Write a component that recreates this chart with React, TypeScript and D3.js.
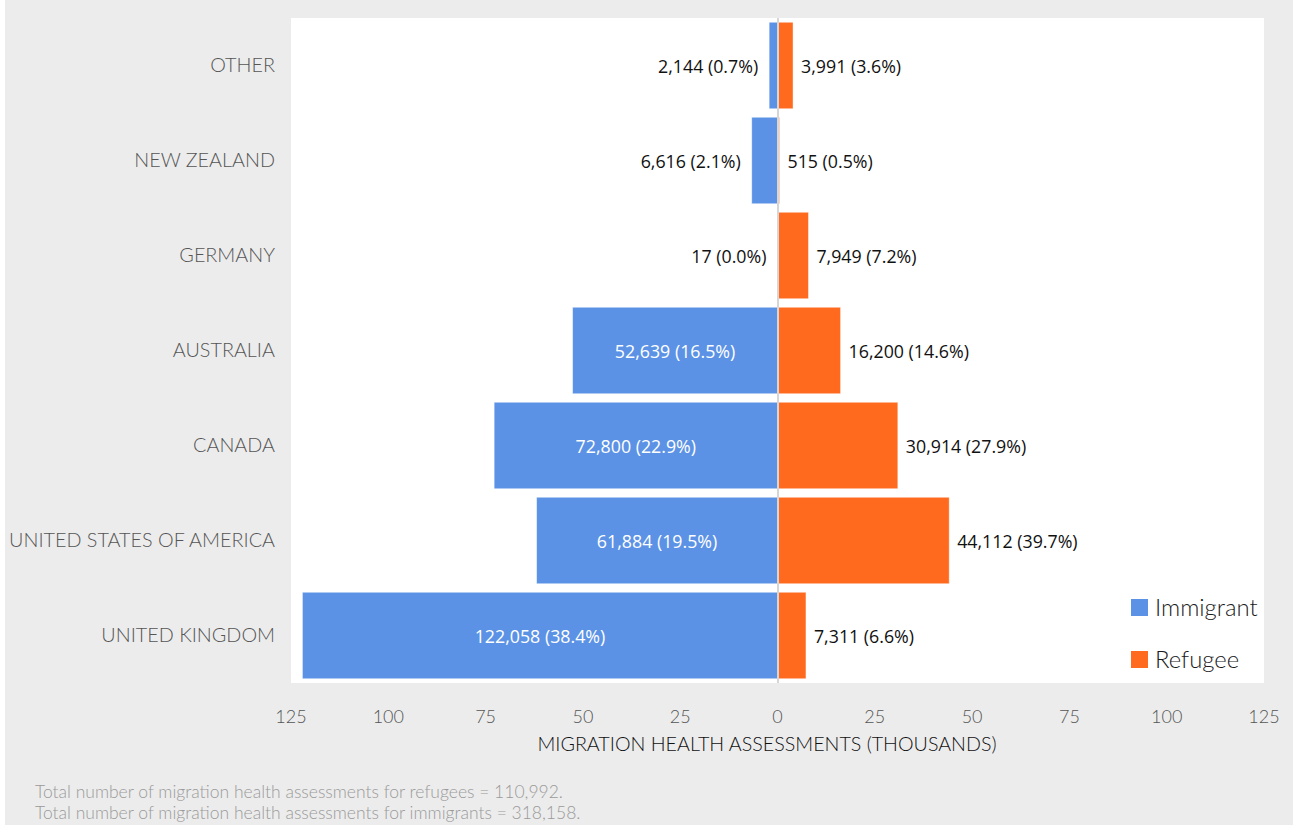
import React from "react";
import * as d3 from "d3";

// Destination countries, top to bottom
const categories = [
  "OTHER",
  "NEW ZEALAND",
  "GERMANY",
  "AUSTRALIA",
  "CANADA",
  "UNITED STATES OF AMERICA",
  "UNITED KINGDOM",
];

// Number of migration health assessments per destination
const immigrantCounts = [2144, 6616, 17, 52639, 72800, 61884, 122058];
const immigrantShares = [0.7, 2.1, 0.0, 16.5, 22.9, 19.5, 38.4];
const refugeeCounts = [3991, 515, 7949, 16200, 30914, 44112, 7311];
const refugeeShares = [3.6, 0.5, 7.2, 14.6, 27.9, 39.7, 6.6];

// Axis ticks in thousands (negative side = immigrants)
const tickValues = [-125, -100, -75, -50, -25, 0, 25, 50, 75, 100, 125];

const seriesNames = ["Immigrant", "Refugee"];
const seriesColors = ["#5b92e5", "#ff6a1f"];

const axisTitle = "MIGRATION HEALTH ASSESSMENTS (THOUSANDS)";
const footnotes = [
  "Total number of migration health assessments for refugees = 110,992.",
  "Total number of migration health assessments for immigrants = 318,158.",
];

const W = 1293;
const H = 825;
const plot = { left: 291, right: 1264, top: 18, bottom: 683 };

const labelFont = "Lato, 'DejaVu Sans', sans-serif";
const valueFont = "'Open Sans', 'Noto Sans', sans-serif";

const fmt = d3.format(",");

export default function App() {
  const x = d3.scaleLinear().domain([-125, 125]).range([plot.left, plot.right]);
  const y = d3
    .scaleBand<string>()
    .domain(categories)
    .range([plot.top, plot.bottom])
    .paddingInner(0.09)
    .paddingOuter(0.045);
  const band = (plot.bottom - plot.top) / categories.length;
  const x0 = x(0);

  const rows = categories.map((c, i) => ({
    c,
    imm: immigrantCounts[i],
    immPct: immigrantShares[i],
    ref: refugeeCounts[i],
    refPct: refugeeShares[i],
    center: plot.top + band * (i + 0.5),
  }));

  return (
    <svg
      width={W}
      height={H}
      style={{ position: "absolute", left: 0, top: 0, display: "block" }}
    >
      <rect x={0} y={0} width={W} height={H} fill="#ffffff" />
      <rect x={5} y={0} width={W - 5} height={H} fill="#ececec" />
      <rect
        x={plot.left}
        y={plot.top}
        width={plot.right - plot.left}
        height={plot.bottom - plot.top}
        fill="#ffffff"
      />

      {/* bars */}
      {rows.map((r) => {
        const yb = y(r.c)!;
        const h = y.bandwidth();
        return (
          <g key={r.c}>
            <rect
              x={x(-r.imm / 1000)}
              y={yb}
              width={x0 - x(-r.imm / 1000)}
              height={h}
              fill={seriesColors[0]}
              stroke="#ffffff"
              strokeOpacity={0.5}
              strokeWidth={0.8}
            />
            <rect
              x={x0}
              y={yb}
              width={x(r.ref / 1000) - x0}
              height={h}
              fill={seriesColors[1]}
              stroke="#ffffff"
              strokeOpacity={0.5}
              strokeWidth={0.8}
            />
          </g>
        );
      })}

      {/* zero line */}
      <line
        x1={x0 + 0.5}
        x2={x0 + 0.5}
        y1={plot.top}
        y2={plot.bottom}
        stroke="#d6d6d6"
        strokeWidth={2}
      />

      {/* value labels */}
      {rows.map((r) => {
        const inside = r.imm / 1000 > 30;
        const left = x(-r.imm / 1000);
        const immText = `${fmt(r.imm)} (${r.immPct.toFixed(1)}%)`;
        const refText = `${fmt(r.ref)} (${r.refPct.toFixed(1)}%)`;
        return (
          <g key={r.c} fontFamily={valueFont} fontSize={17.8}>
            <text
              x={inside ? (left + x0) / 2 : left - 11}
              y={r.center + 7}
              textAnchor={inside ? "middle" : "end"}
              fill={inside ? "#ffffff" : "#111111"}
            >
              {immText}
            </text>
            <text
              x={x(r.ref / 1000) + 8}
              y={r.center + 7}
              textAnchor="start"
              fill="#111111"
            >
              {refText}
            </text>
          </g>
        );
      })}

      {/* category labels */}
      {rows.map((r) => (
        <text
          key={r.c}
          x={275}
          y={r.center + 6.5}
          textAnchor="end"
          fontFamily={labelFont}
          fontWeight={300}
          fontSize={19.8}
          fill="#555555"
        >
          {r.c}
        </text>
      ))}

      {/* axis ticks */}
      {tickValues.map((t) => (
        <text
          key={t}
          x={x(t)}
          y={722.5}
          textAnchor="middle"
          fontFamily={labelFont}
          fontWeight={300}
          fontSize={18}
          fill="#555555"
        >
          {Math.abs(t)}
        </text>
      ))}

      <text
        x={767}
        y={751}
        textAnchor="middle"
        fontFamily={labelFont}
        fontWeight={300}
        fontSize={19.7}
        fill="#111111"
      >
        {axisTitle}
      </text>

      {/* legend */}
      {seriesNames.map((s, i) => (
        <g key={s}>
          <rect x={1131} y={599 + i * 52} width={17} height={17} fill={seriesColors[i]} />
          <text
            x={1155}
            y={616 + i * 52}
            fontFamily={labelFont}
            fontWeight={300}
            fontSize={23.8}
            fill="#1a1a1a"
          >
            {s}
          </text>
        </g>
      ))}

      {/* footnotes */}
      {footnotes.map((f, i) => (
        <text
          key={i}
          x={35}
          y={798 + i * 20.5}
          fontFamily={labelFont}
          fontWeight={300}
          fontSize={17.5}
          fill="#9a9a9a"
        >
          {f}
        </text>
      ))}
    </svg>
  );
}
